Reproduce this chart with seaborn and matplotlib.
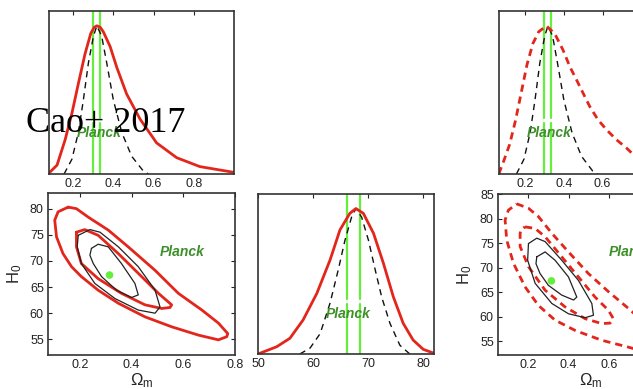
import numpy as np
import pandas as pd
import matplotlib
matplotlib.use("Agg")
import matplotlib.pyplot as plt
import seaborn as sns

# Planck reference values
planck_om = [0.298, 0.332]
planck_h0 = [66.1, 68.5]
planck_pt_om = [0.315]
planck_pt_h0 = [67.3]

# 1D Omega_m posteriors, left column (solid red) and right column (dashed red)
om_left_x = [0.081, 0.12, 0.16, 0.194, 0.226, 0.259, 0.288, 0.305, 0.318, 0.335, 0.350,
             0.384, 0.417, 0.466, 0.533, 0.615, 0.715, 0.83, 1.0]
om_left_y = [0.008, 0.06, 0.23, 0.41, 0.61, 0.81, 0.95, 0.99, 1.0, 0.99, 0.96,
             0.86, 0.72, 0.54, 0.37, 0.21, 0.11, 0.05, 0.011]
om_right_x = [0.064, 0.09, 0.12, 0.15, 0.18, 0.21, 0.24, 0.27, 0.31, 0.353, 0.396, 0.431,
              0.466, 0.50, 0.534, 0.577, 0.621, 0.672, 0.724, 0.751, 0.85, 1.0]
om_right_y = [0.0, 0.09, 0.2, 0.36, 0.55, 0.74, 0.88, 0.96, 1.0, 0.947, 0.836, 0.724,
              0.634, 0.544, 0.455, 0.365, 0.298, 0.231, 0.175, 0.141, 0.07, 0.02]
om_ref_x = [0.155, 0.194, 0.226, 0.251, 0.276, 0.301, 0.318, 0.342, 0.367, 0.40,
            0.442, 0.491, 0.549, 0.575]
om_ref_y = [0.0, 0.1, 0.28, 0.5, 0.75, 0.93, 1.0, 0.93, 0.75, 0.5,
            0.28, 0.12, 0.02, 0.0]

# 1D H0 posteriors
h0_red_x = [50.0, 53.4, 55.8, 58.2, 60.7, 63.1, 64.9, 66.7, 67.8, 69.15, 71.0,
            72.8, 74.6, 76.4, 78.2, 80.05, 82.0]
h0_red_y = [0.0, 0.05, 0.108, 0.234, 0.417, 0.646, 0.853, 0.967, 1.0, 0.967, 0.83,
            0.624, 0.394, 0.211, 0.096, 0.032, 0.005]
h0_ref_x = [57.6, 59.45, 61.3, 63.1, 64.6, 65.8, 67.0, 67.8, 68.85, 70.1, 71.3,
            72.5, 74.0, 75.8, 77.6]
h0_ref_y = [0.0, 0.04, 0.14, 0.35, 0.58, 0.78, 0.94, 1.0, 0.94, 0.78, 0.58,
            0.39, 0.21, 0.06, 0.0]

# 2D contours, left panel
l_red_out_x = [0.155, 0.116, 0.103, 0.110, 0.135, 0.168, 0.206, 0.271, 0.349, 0.452, 0.555,
               0.659, 0.736, 0.768, 0.772, 0.736, 0.672, 0.581, 0.491, 0.387, 0.310, 0.232, 0.187]
l_red_out_y = [80.3, 79.4, 77.8, 74.6, 71.4, 68.9, 67.0, 64.4, 61.9, 59.3, 57.4,
               55.8, 54.9, 55.5, 56.1, 58.1, 60.6, 63.8, 68.2, 72.7, 75.9, 78.4, 80.0]
l_red_in_x = [0.187, 0.219, 0.271, 0.349, 0.439, 0.504, 0.555, 0.549, 0.517, 0.452,
              0.361, 0.271, 0.206, 0.187]
l_red_in_y = [75.5, 76.0, 74.9, 71.4, 67.0, 63.8, 61.6, 61.1, 60.9, 61.6,
              63.8, 66.6, 69.5, 72.7]
l_blk_out_x = [0.194, 0.239, 0.278, 0.349, 0.426, 0.491, 0.510, 0.491, 0.426, 0.336,
               0.258, 0.206, 0.190]
l_blk_out_y = [74.9, 76.0, 75.5, 72.7, 68.9, 64.4, 61.2, 60.0, 60.6, 62.8,
               65.7, 69.5, 72.7]
l_blk_in_x = [0.245, 0.271, 0.310, 0.361, 0.413, 0.426, 0.400, 0.342, 0.284, 0.252, 0.239]
l_blk_in_y = [72.4, 73.2, 72.7, 69.5, 65.7, 63.5, 63.0, 64.4, 67.0, 69.5, 71.1]

# 2D contours, right panel
r_red_out_x = [0.144, 0.202, 0.251, 0.317, 0.399, 0.497, 0.596, 0.694, 0.80, 0.87, 0.90,
               0.85, 0.78, 0.694, 0.563, 0.432, 0.333, 0.251, 0.185, 0.128, 0.095, 0.087, 0.103]
r_red_out_y = [83.0, 82.1, 80.4, 77.0, 73.2, 68.8, 65.1, 61.7, 57.8, 54.8, 53.0,
               52.4, 52.8, 53.8, 55.2, 57.2, 59.3, 62.3, 66.1, 70.9, 75.6, 79.7, 81.7]
r_red_in_x = [0.185, 0.234, 0.284, 0.366, 0.448, 0.530, 0.596, 0.620, 0.604, 0.563,
              0.481, 0.382, 0.284, 0.202, 0.161, 0.161, 0.166]
r_red_in_y = [78.3, 78.0, 76.3, 72.2, 68.1, 64.0, 61.3, 59.6, 58.7, 58.6,
              59.6, 62.0, 65.4, 70.2, 74.3, 77.0, 77.8]
r_blk_out_x = [0.202, 0.243, 0.284, 0.366, 0.448, 0.514, 0.522, 0.481, 0.399, 0.317,
               0.235, 0.198]
r_blk_out_y = [74.9, 76.0, 75.3, 71.5, 67.4, 62.7, 60.3, 59.8, 60.6, 62.7,
               66.8, 71.5]
r_blk_in_x = [0.243, 0.284, 0.333, 0.399, 0.440, 0.424, 0.366, 0.300, 0.259, 0.239]
r_blk_in_y = [72.2, 73.2, 71.5, 68.1, 64.0, 63.4, 64.4, 66.4, 68.8, 70.8]

om_ticks = [0.2, 0.4, 0.6, 0.8]
h0_ticks = [50, 60, 70, 80]
h0_left_ticks = [55, 60, 65, 70, 75, 80]
h0_right_ticks = [55, 60, 65, 70, 75, 80, 85]

RED = "#e3261c"
LIME = "#66ee3c"
PLANCK = "#3d8f2a"
SOLID = dict(color=RED, lw=2.0)
DASHED = dict(color=RED, lw=2.0, linestyle=(0, (2.6, 1.8)))
REF = dict(color="#111111", lw=1.0, linestyle=(0, (4.5, 3.5)))
THIN = dict(color="#222222", lw=0.9)

sns.set_style("white")
plt.rcParams["font.family"] = ["Liberation Sans", "DejaVu Sans"]
plt.rcParams["mathtext.fontset"] = "custom"
plt.rcParams["mathtext.rm"] = "Liberation Sans"
plt.rcParams["mathtext.it"] = "Liberation Sans:italic"

fig = plt.figure(figsize=(6.33, 3.89), dpi=100)
W, H = 633, 389


def add_ax(x0, y0, x1, y1):
    return fig.add_axes([x0 / W, 1 - y1 / H, (x1 - x0) / W, (y1 - y0) / H])


def style(ax, yticks=True):
    for s in ax.spines.values():
        s.set_color("#333333")
        s.set_linewidth(1.2)
    ax.tick_params(direction="in", top=True, right=yticks, left=yticks,
                   length=3, width=0.8, labelsize=9, pad=3, colors="#222222",
                   labelcolor="#222222")
    if not yticks:
        ax.set_yticks([])
    ax.set_xlabel("")
    ax.set_ylabel("")


def curve(ax, xs, ys, closed=False, **kw):
    if closed:
        xs = list(xs) + [xs[0]]
        ys = list(ys) + [ys[0]]
    sns.lineplot(x=xs, y=ys, sort=False, estimator=None, ax=ax, **kw)


def planck_lines(ax, vals):
    for v in vals:
        ax.axvline(v, ymin=0, ymax=0.31, color=LIME, lw=1.6, zorder=1)
        ax.axvline(v, ymin=0.345, ymax=1, color=LIME, lw=1.6, zorder=1)


def planck_label(ax, x, y):
    ax.text(x, y, "Planck", transform=ax.transAxes, ha="center", va="center",
            color=PLANCK, fontsize=10, fontweight="bold", fontstyle="italic")


# top-left: Omega_m 1D
ax1 = add_ax(49, 11, 234, 174)
planck_lines(ax1, planck_om)
curve(ax1, om_ref_x, om_ref_y, **REF)
curve(ax1, om_left_x, om_left_y, **SOLID)
ax1.set_xlim(0.08, 1.0)
ax1.set_ylim(0, 1.1)
ax1.set_xticks(om_ticks)
style(ax1, yticks=False)
planck_label(ax1, 0.27, 0.25)

# bottom-left: 2D
ax2 = add_ax(48, 193, 235, 355)
curve(ax2, l_red_out_x, l_red_out_y, closed=True, **SOLID)
curve(ax2, l_red_in_x, l_red_in_y, closed=True, **SOLID)
curve(ax2, l_blk_out_x, l_blk_out_y, closed=True, **THIN)
curve(ax2, l_blk_in_x, l_blk_in_y, closed=True, **THIN)
sns.scatterplot(x=planck_pt_om, y=planck_pt_h0, color=LIME, s=30, edgecolor="none", ax=ax2)
ax2.set_xlim(0.077, 0.8)
ax2.set_ylim(52.0, 83.0)
ax2.set_xticks(om_ticks)
ax2.set_yticks(h0_left_ticks)
style(ax2)
ax2.set_xlabel(r"$\Omega_{\rm m}$", fontsize=12, labelpad=0)
ax2.set_ylabel(r"H$_0$", fontsize=12, labelpad=4)
planck_label(ax2, 0.717, 0.636)

# bottom-middle: H0 1D
ax3 = add_ax(258, 194, 434, 354)
planck_lines(ax3, planck_h0)
curve(ax3, h0_ref_x, h0_ref_y, **REF)
curve(ax3, h0_red_x, h0_red_y, **SOLID)
ax3.set_xlim(50, 82)
ax3.set_ylim(0, 1.1)
ax3.set_xticks(h0_ticks)
style(ax3, yticks=False)
planck_label(ax3, 0.511, 0.25)

# top-right: Omega_m 1D with dashed red
ax4 = add_ax(499, 11, 680, 174)
planck_lines(ax4, planck_om)
curve(ax4, om_ref_x, om_ref_y, **REF)
curve(ax4, om_right_x, om_right_y, **DASHED)
ax4.set_xlim(0.065, 1.0)
ax4.set_ylim(0, 1.1)
ax4.set_xticks(om_ticks)
style(ax4, yticks=False)
planck_label(ax4, 0.276, 0.25)

# bottom-right: 2D with dashed red
ax5 = add_ax(498, 194, 683, 355)
curve(ax5, r_red_out_x, r_red_out_y, closed=True, **DASHED)
curve(ax5, r_red_in_x, r_red_in_y, closed=True, **DASHED)
curve(ax5, r_blk_out_x, r_blk_out_y, closed=True, **THIN)
curve(ax5, r_blk_in_x, r_blk_in_y, closed=True, **THIN)
sns.scatterplot(x=planck_pt_om, y=planck_pt_h0, color=LIME, s=30, edgecolor="none", ax=ax5)
ax5.set_xlim(0.052, 0.963)
ax5.set_ylim(52.2, 85.0)
ax5.set_xticks(om_ticks)
ax5.set_yticks(h0_right_ticks)
style(ax5)
ax5.set_xlabel(r"$\Omega_{\rm m}$", fontsize=12, labelpad=0)
ax5.set_ylabel(r"H$_0$", fontsize=12, labelpad=4)
planck_label(ax5, 0.72, 0.64)

fig.text(26 / W, 1 - 132 / H, "Cao+ 2017", family=["Liberation Serif", "DejaVu Serif"],
         fontsize=26, color="black", ha="left", va="baseline")

fig.savefig("out.png", dpi=100)
